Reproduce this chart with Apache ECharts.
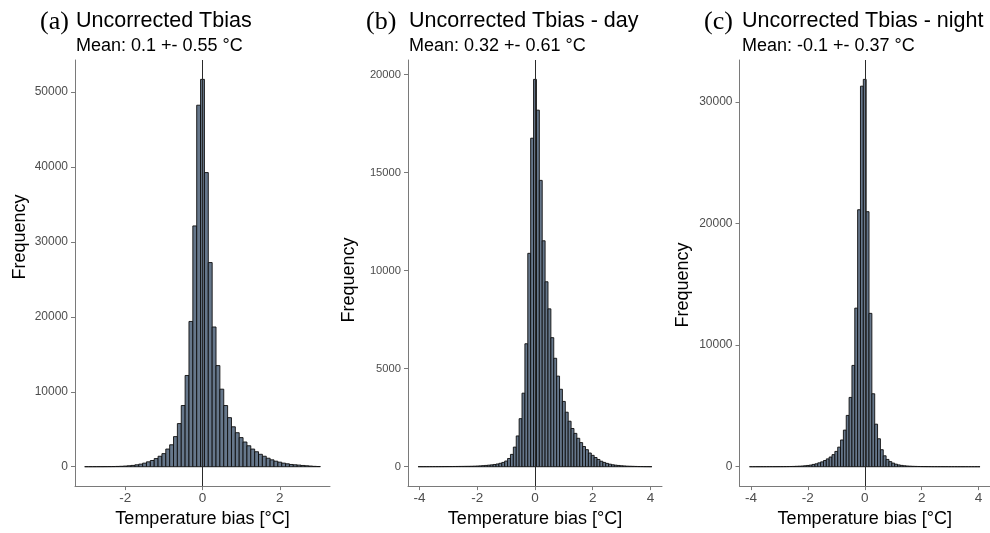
<!DOCTYPE html>
<html>
<head>
<meta charset="utf-8">
<script src="https://cdn.jsdelivr.net/npm/echarts@6/dist/echarts.min.js"></script>
<style>
html,body{margin:0;padding:0;background:#fff;}
#chart{width:990px;height:533px;}
</style>
</head>
<body>
<div id="chart"></div>
<script>
// ---- data ----
const BIN_WIDTH = 0.1;
// bin centres: multiples of 0.1, panel (a) -3..3, panels (b),(c) -4..4
const kRangeA = [-30, 30];
const kRangeB = [-40, 40];
const kRangeC = [-40, 40];

const countsA = [
  5, 5, 8, 10, 12, 15, 20, 25, 40, 60,
  90, 130, 175, 260, 350, 480, 655, 830, 1090, 1400,
  1750, 2360, 2930, 4020, 5760, 8170, 12180, 19390, 32140, 48250,
  51700,
  39260, 27250, 18650, 13500, 10350, 8170, 6550, 5330, 4540, 3890,
  3300, 2800, 2360, 2000, 1660, 1400, 1135, 920, 740, 610,
  480, 390, 300, 260, 220, 170, 130, 90, 50, 30
];

const countsB = [
  2, 2, 3, 3, 4, 5, 5, 6, 7, 8,
  9, 10, 12, 14, 16, 18, 20, 22, 25, 30,
  36, 44, 55, 66, 80, 95, 115, 140, 175, 220,
  290, 420, 630, 1000, 1570, 2450, 3750, 6270, 10880, 16750,
  19750,
  18180, 14600, 11520, 9430, 8050, 6580, 5530, 4620, 3950, 3330,
  2780, 2320, 1950, 1700, 1450, 1230, 1030, 870, 700, 580,
  470, 370, 280, 220, 170, 130, 100, 80, 65, 50,
  40, 30, 25, 20, 15, 10, 8, 5, 4, 3
];

const countsC = [
  1, 1, 2, 2, 3, 3, 4, 5, 6, 7,
  8, 10, 12, 15, 20, 25, 35, 45, 60, 80,
  105, 135, 190, 240, 320, 400, 510, 645, 800, 995,
  1260, 1610, 2200, 3010, 4220, 5700, 8330, 13040, 21130, 31290,
  31850,
  20970, 12610, 6000, 3500, 2300, 1400, 900, 600, 420, 300,
  210, 150, 110, 80, 60, 45, 34, 26, 20, 15,
  12, 10, 8, 6, 5, 4, 4, 3, 3, 2,
  2, 2, 1, 1, 1, 1, 1, 1, 1, 1
];

const titles = ['Uncorrected Tbias', 'Uncorrected Tbias - day', 'Uncorrected Tbias - night'];
const tags = ['(a)', '(b)', '(c)'];
const subtitles = ['Mean: 0.1 +- 0.55 °C', 'Mean: 0.32 +- 0.61 °C', 'Mean: -0.1 +- 0.37 °C'];
const xTicksA = [-2, 0, 2];
const xTicksBC = [-4, -2, 0, 2, 4];
const yTicksA = [0, 10000, 20000, 30000, 40000, 50000];
const yTicksB = [0, 5000, 10000, 15000, 20000];
const yTicksC = [0, 10000, 20000, 30000];
const xTitle = 'Temperature bias [°C]';
const yTitle = 'Frequency';

// ---- build ----
function binData(kRange, counts) {
  const out = [];
  for (let k = kRange[0], i = 0; k <= kRange[1]; k++, i++) {
    const c = k * BIN_WIDTH;
    out.push([c - BIN_WIDTH / 2, c + BIN_WIDTH / 2, counts[i]]);
  }
  return out;
}

const FILL = '#66778b';
function renderItem(params, api) {
  const p0 = api.coord([api.value(0), 0]);
  const p1 = api.coord([api.value(1), api.value(2)]);
  return {
    type: 'rect',
    shape: { x: p0[0], y: p1[1], width: p1[0] - p0[0], height: p0[1] - p1[1] },
    style: { fill: FILL, stroke: '#0d0d0d', lineWidth: 0.9 }
  };
}

const panels = [
  { grid: { left: 75, top: 60, width: 255, height: 433 }, xr: [-3.3, 3.3], xt: xTicksA, yt: yTicksA, data: binData(kRangeA, countsA), counts: countsA, ylab: 12, fx: 20, fy: 237 },
  { grid: { left: 408, top: 60, width: 254, height: 433 }, xr: [-4.4, 4.4], xt: xTicksBC, yt: yTicksB, data: binData(kRangeB, countsB), counts: countsB, ylab: 11.2, fx: 349, fy: 280 },
  { grid: { left: 739.5, top: 60, width: 256, height: 433 }, xr: [-4.4, 4.4], xt: xTicksBC, yt: yTicksC, data: binData(kRangeC, countsC), counts: countsC, ylab: 12, fx: 683, fy: 285 }
];
const tagLeft = [40, 366, 704];
const titleLeft = [76, 409, 742];

const AXIS_COLOR = '#7a7a7a';
const LABEL_COLOR = '#4d4d4d';

const option = {
  animation: false,
  backgroundColor: '#ffffff',
  title: [],
  grid: [],
  xAxis: [],
  yAxis: [],
  series: [],
  graphic: []
};

panels.forEach((p, i) => {
  option.grid.push(p.grid);
  const ymax = Math.max(...p.counts);
  option.title.push({
    text: tags[i], left: tagLeft[i], top: 9, padding: 0,
    textStyle: { fontFamily: 'Liberation Serif', fontSize: 26, fontWeight: 'normal', color: '#000', lineHeight: 26 }
  });
  option.title.push({
    text: titles[i], left: titleLeft[i], top: 10, padding: 0,
    textStyle: { fontFamily: 'Liberation Sans', fontSize: 21.5, fontWeight: 'normal', color: '#000', lineHeight: 22 }
  });
  option.title.push({
    text: subtitles[i], left: titleLeft[i], top: 37, padding: 0,
    textStyle: { fontFamily: 'Liberation Sans', fontSize: 18, fontWeight: 'normal', color: '#000', lineHeight: 18 }
  });
  option.graphic.push({
    type: 'text', x: p.fx, y: p.fy, rotation: Math.PI / 2, silent: true,
    style: { text: yTitle, fontFamily: 'Liberation Sans', fontSize: 18, fill: '#000', align: 'center', verticalAlign: 'middle' }
  });
  option.xAxis.push({
    type: 'value', gridIndex: i, min: p.xr[0], max: p.xr[1],
    name: xTitle, nameLocation: 'middle', nameGap: 20,
    nameTextStyle: { fontFamily: 'Liberation Sans', fontSize: 18, color: '#000', lineHeight: 18 },
    axisLine: { show: true, onZero: false, lineStyle: { color: AXIS_COLOR, width: 1 } },
    axisTick: { show: true, length: 4, lineStyle: { color: AXIS_COLOR }, customValues: p.xt },
    axisLabel: { show: true, customValues: p.xt, margin: 5, fontFamily: 'Liberation Sans', fontSize: 13.5, color: LABEL_COLOR, lineHeight: 14, formatter: v => String(v) },
    splitLine: { show: false }
  });
  option.yAxis.push({
    type: 'value', gridIndex: i, min: -0.05 * ymax, max: 1.05 * ymax,
    axisLine: { show: true, onZero: false, lineStyle: { color: AXIS_COLOR, width: 1 } },
    axisTick: { show: true, length: 4, lineStyle: { color: AXIS_COLOR }, customValues: p.yt },
    axisLabel: { show: true, customValues: p.yt, margin: 7, fontFamily: 'Liberation Sans', fontSize: p.ylab, color: LABEL_COLOR, formatter: v => String(v) },
    splitLine: { show: false }
  });
  option.series.push({
    type: 'custom', xAxisIndex: i, yAxisIndex: i,
    renderItem: renderItem,
    encode: { x: [0, 1], y: 2 },
    data: p.data,
    z: 2,
    markLine: {
      silent: true, symbol: ['none', 'none'], animation: false,
      label: { show: false },
      lineStyle: { color: '#2a2a2a', width: 1, type: 'solid' },
      data: [{ xAxis: 0 }]
    }
  });
});

const chart = echarts.init(document.getElementById('chart'), null, { renderer: 'canvas' });
chart.setOption(option);
</script>
</body>
</html>
